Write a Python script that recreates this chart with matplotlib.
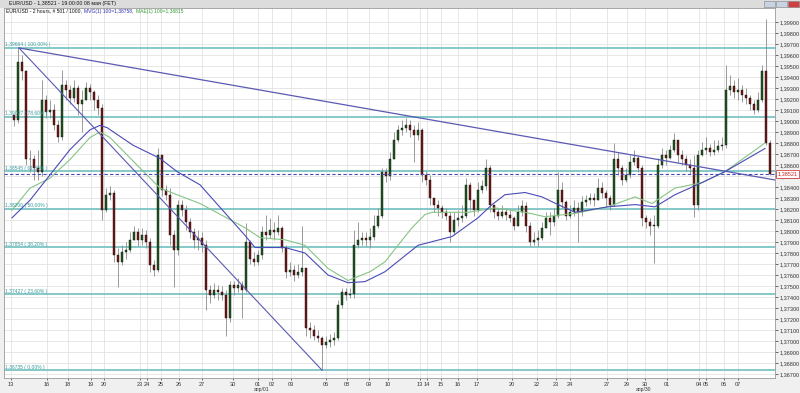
import matplotlib.pyplot as plt
import numpy as np
from matplotlib.patches import Rectangle
from matplotlib.ticker import FuncFormatter

plt.rcParams['font.family'] = ['Liberation Sans', 'DejaVu Sans']

# 2-hour EUR/USD candles (compressed)
first_open = 1.3905
close = [1.3901, 1.3954, 1.3945, 1.3865, 1.3865, 1.3857, 1.3854, 1.3919, 1.3908, 1.3910,
         1.3896, 1.3885, 1.3933, 1.3928, 1.3921, 1.3930, 1.3915, 1.3919, 1.3930, 1.3926,
         1.3919, 1.3912, 1.3819, 1.3833, 1.3835, 1.3778, 1.3772, 1.3781, 1.3783, 1.3792,
         1.3799, 1.3792, 1.3796, 1.3790, 1.3769, 1.3765, 1.3869, 1.3837, 1.3833, 1.3796,
         1.3783, 1.3824, 1.3819, 1.3808, 1.3799, 1.3792, 1.3794, 1.3787, 1.3746, 1.3742,
         1.3746, 1.3745, 1.3742, 1.3721, 1.3751, 1.3748, 1.3751, 1.3746, 1.3790, 1.3775,
         1.3772, 1.3778, 1.3799, 1.3796, 1.3801, 1.3799, 1.3803, 1.3785, 1.3763, 1.3765,
         1.3760, 1.3763, 1.3766, 1.3712, 1.3710, 1.3705, 1.3703, 1.3696, 1.3699, 1.3701,
         1.3703, 1.3733, 1.3745, 1.3742, 1.3743, 1.3787, 1.3792, 1.3794, 1.3792, 1.3795,
         1.3805, 1.3814, 1.3854, 1.3850, 1.3865, 1.3883, 1.3892, 1.3894, 1.3896, 1.3892,
         1.3887, 1.3892, 1.3851, 1.3846, 1.3830, 1.3824, 1.3821, 1.3817, 1.3814, 1.3799,
         1.3810, 1.3812, 1.3814, 1.3842, 1.3828, 1.3819, 1.3837, 1.3841, 1.3857, 1.3824,
         1.3817, 1.3814, 1.3817, 1.3815, 1.3812, 1.3805, 1.3817, 1.3823, 1.3805, 1.3790,
         1.3792, 1.3794, 1.3803, 1.3812, 1.3808, 1.3814, 1.3837, 1.3826, 1.3814, 1.3817,
         1.3821, 1.3817, 1.3826, 1.3828, 1.3830, 1.3828, 1.3839, 1.3835, 1.3830, 1.3824,
         1.3865, 1.3857, 1.3846, 1.3851, 1.3863, 1.3866, 1.3857, 1.3812, 1.3808, 1.3805,
         1.3805, 1.3860, 1.3869, 1.3866, 1.3874, 1.3883, 1.3869, 1.3865, 1.3860, 1.3857,
         1.3824, 1.3869, 1.3874, 1.3875, 1.3872, 1.3874, 1.3877, 1.3878, 1.3928, 1.3932,
         1.3926, 1.3928, 1.3924, 1.3921, 1.3915, 1.3910, 1.3919, 1.3945, 1.3880, 1.38521]
high = [1.3905, 1.39664, 1.3960, 1.3946, 1.3874, 1.3869, 1.3874, 1.3937, 1.3924, 1.3919,
        1.3915, 1.3901, 1.3946, 1.3937, 1.3933, 1.3937, 1.3933, 1.3928, 1.3935, 1.3934,
        1.3928, 1.3924, 1.3915, 1.3839, 1.3841, 1.3837, 1.3785, 1.3787, 1.3790, 1.3799,
        1.3805, 1.3803, 1.3803, 1.3801, 1.3794, 1.3774, 1.3875, 1.3869, 1.3842, 1.3839,
        1.3801, 1.3828, 1.3828, 1.3824, 1.3812, 1.3803, 1.3801, 1.3799, 1.3792, 1.3751,
        1.3753, 1.3751, 1.3750, 1.3746, 1.3755, 1.3755, 1.3757, 1.3755, 1.3807, 1.3792,
        1.3781, 1.3783, 1.3805, 1.3815, 1.3812, 1.3808, 1.3815, 1.3805, 1.3787, 1.3772,
        1.3769, 1.3770, 1.3805, 1.3766, 1.3717, 1.3715, 1.3710, 1.3705, 1.3705, 1.3706,
        1.3708, 1.3737, 1.3748, 1.3748, 1.3748, 1.3801, 1.3808, 1.3799, 1.3799, 1.3803,
        1.3815, 1.3821, 1.3857, 1.3857, 1.3872, 1.3890, 1.3896, 1.3901, 1.3903, 1.3901,
        1.3896, 1.3899, 1.3894, 1.3855, 1.3851, 1.3830, 1.3828, 1.3824, 1.3821, 1.3817,
        1.3817, 1.3819, 1.3824, 1.3848, 1.3845, 1.3828, 1.3845, 1.3846, 1.3865, 1.3860,
        1.3824, 1.3821, 1.3824, 1.3821, 1.3819, 1.3814, 1.3824, 1.3828, 1.3826, 1.3808,
        1.3799, 1.3801, 1.3808, 1.3817, 1.3817, 1.3821, 1.3854, 1.3845, 1.3828, 1.3824,
        1.3828, 1.3826, 1.3832, 1.3833, 1.3835, 1.3835, 1.3848, 1.3845, 1.3837, 1.3833,
        1.3880, 1.3872, 1.3860, 1.3857, 1.3869, 1.3874, 1.3869, 1.3860, 1.3815, 1.3812,
        1.3815, 1.3866, 1.3875, 1.3874, 1.3878, 1.3889, 1.3881, 1.3874, 1.3869, 1.3865,
        1.3869, 1.3874, 1.3881, 1.3885, 1.3879, 1.3883, 1.3883, 1.3885, 1.3951, 1.3942,
        1.3937, 1.3939, 1.3933, 1.3930, 1.3924, 1.3919, 1.3926, 1.3951, 1.3993, 1.3883]
low = [1.3895, 1.3898, 1.3937, 1.3860, 1.3854, 1.3846, 1.3846, 1.3850, 1.3903, 1.3903,
       1.3892, 1.3881, 1.3883, 1.3919, 1.3915, 1.3917, 1.3905, 1.3890, 1.3919, 1.3919,
       1.3910, 1.3905, 1.3810, 1.3817, 1.3828, 1.3772, 1.3749, 1.3769, 1.3775, 1.3781,
       1.3792, 1.3786, 1.3787, 1.3785, 1.3763, 1.3759, 1.3763, 1.3832, 1.3828, 1.3787,
       1.3749, 1.3778, 1.3814, 1.3801, 1.3794, 1.3785, 1.3783, 1.3781, 1.3728, 1.3735,
       1.3739, 1.3737, 1.3737, 1.3705, 1.3717, 1.3742, 1.3745, 1.3721, 1.3745, 1.3770,
       1.3768, 1.3769, 1.3775, 1.3792, 1.3794, 1.3792, 1.3796, 1.3781, 1.3757, 1.3759,
       1.3755, 1.3757, 1.3759, 1.3705, 1.3703, 1.3701, 1.3699, 1.36735, 1.3694, 1.3695,
       1.3696, 1.3701, 1.3730, 1.3737, 1.3739, 1.3739, 1.3785, 1.3787, 1.3786, 1.3785,
       1.3792, 1.3803, 1.3812, 1.3845, 1.3846, 1.3865, 1.3881, 1.3887, 1.3890, 1.3885,
       1.3863, 1.3883, 1.3845, 1.3842, 1.3824, 1.3817, 1.3814, 1.3812, 1.3810, 1.3790,
       1.3796, 1.3805, 1.3808, 1.3812, 1.3819, 1.3814, 1.3817, 1.3835, 1.3837, 1.3817,
       1.3812, 1.3810, 1.3812, 1.3810, 1.3808, 1.3801, 1.3805, 1.3814, 1.3799, 1.3786,
       1.3787, 1.3786, 1.3792, 1.3803, 1.3796, 1.3805, 1.3812, 1.3821, 1.3810, 1.3812,
       1.3814, 1.3790, 1.3814, 1.3823, 1.3825, 1.3823, 1.3830, 1.3830, 1.3823, 1.3819,
       1.3823, 1.3851, 1.3842, 1.3845, 1.3848, 1.3860, 1.3854, 1.3805, 1.3803, 1.3796,
       1.3771, 1.3803, 1.3857, 1.3860, 1.3865, 1.3872, 1.3863, 1.3860, 1.3855, 1.3852,
       1.3813, 1.3819, 1.3868, 1.3870, 1.3868, 1.3869, 1.3872, 1.3874, 1.3875, 1.3924,
       1.3921, 1.3919, 1.3917, 1.3915, 1.3910, 1.3906, 1.3908, 1.3917, 1.3878, 1.3851]

# moving averages (bar index, price)
mvg_x = [-0.5, 4, 9, 14, 19, 21.5, 23.25, 29.75, 36.5, 40.75, 46.5, 57.75, 60.25, 67.75,
         72.75, 78.5, 83.5, 87.75, 92.75, 101, 109.5, 116, 119.5, 122.75, 127.75, 132, 136,
         140.25, 148.5, 155.25, 160.25, 165.25, 172, 177.75, 187.75]
mvg_y = [1.3812, 1.3828, 1.3851, 1.3874, 1.3892, 1.3896, 1.3894, 1.3878, 1.3866, 1.3854,
         1.3842, 1.3796, 1.3785, 1.3785, 1.3780, 1.3760, 1.3753, 1.3754, 1.3763, 1.3787,
         1.3795, 1.3812, 1.3824, 1.3833, 1.3835, 1.3831, 1.3824, 1.3817, 1.3822, 1.3824,
         1.3822, 1.3833, 1.3844, 1.3854, 1.3875]
mae_x = [-0.5, 4, 9, 14, 19, 21.5, 24, 30.75, 36.5, 40.75, 46.5, 57.75, 61.5, 67.75, 72.75,
         78.5, 83.5, 89, 92.75, 96, 99.5, 102.75, 104.5, 113.5, 120.25, 127.75, 132.75,
         140.25, 148.5, 155.25, 159.5, 165.25, 172, 177.75, 187.75]
mae_y = [1.3819, 1.3839, 1.3848, 1.3865, 1.3885, 1.3890, 1.3885, 1.3860, 1.3839, 1.3833,
         1.3825, 1.3803, 1.3794, 1.3792, 1.3787, 1.3766, 1.3755, 1.3763, 1.3772, 1.3787,
         1.3803, 1.3815, 1.3817, 1.3817, 1.3821, 1.3817, 1.3813, 1.3816, 1.3822, 1.3831,
         1.3825, 1.3839, 1.3844, 1.3854, 1.3880]

# trend lines (bar index, price)
fan_x = [1.25, 77]
fan_y = [1.39664, 1.36735]
trend_x = [1.25, 190.25]
trend_y = [1.39664, 1.38464]

fib_prices = [1.39664, 1.39037, 1.38545, 1.38200, 1.37854, 1.37427, 1.36735]
fib_pct = ["100,00%", "78,60%", "61,80%", "50,00%", "38,20%", "23,60%", "0,00%"]

last_price = 1.38521
price_ticks = [round(1.367 + 0.001 * k, 3) for k in range(33)]

day_labels = ["13", "16", "18", "19", "20", "23", "24", "25", "26", "27", "30", "01", "02",
              "03", "06", "08", "09", "10", "13", "14", "15", "16", "17", "20", "22", "23",
              "24", "27", "29", "30", "01", "04", "05", "06", "07"]
day_pos = [-0.75, 8.25, 13.5, 19.25, 22.5, 31.5, 33.25, 36.75, 41.25, 47, 54.75, 61, 64.5,
           69.25, 78, 83.25, 88.75, 93.5, 101.5, 103.25, 106.75, 111, 115.75, 124.5, 130.75,
           135.5, 139, 148.25, 153.25, 157.75, 163.25, 171.25, 173, 177.5, 181]
month_labels = ["апр/01", "апр/30"]
month_pos = [62, 157.25]

W, H = 800, 393
ylo, yhi = 1.36664, 1.40027
fig = plt.figure(figsize=(W / 100, H / 100), dpi=100, facecolor="#f0f0f0")
ax = fig.add_axes([4 / W, 1 - 378 / H, 771 / W, 370 / H], facecolor="white")

n = len(close)
x = np.arange(n)
opens = np.array([first_open] + close[:-1])
closes = np.array(close)
highs = np.maximum(np.array(high), np.maximum(opens, closes))
lows = np.minimum(np.array(low), np.minimum(opens, closes))

# grid
for p in price_ticks:
    ax.axhline(p, color="#e3e3e3", lw=0.6, zorder=0)
for d in day_pos:
    ax.axvline(d, color="#e3e3e3", lw=0.6, zorder=0)

# fibonacci levels
for p, pct in zip(fib_prices, fib_pct):
    ax.axhline(p, color="#7cc4c4", lw=1.3, zorder=1)
    ax.text(-2.2, p + 0.00005, f"{p:.5f}".replace(".", ",") + f" ( {pct} )",
            fontsize=3.6, color="#3a9c9c", va="bottom", ha="left", zorder=5)

# candles
ax.vlines(x, lows, highs, color="#8a8a8a", lw=0.6, zorder=2)
up = closes >= opens
body_h = np.maximum(np.abs(closes - opens), 0.00004)
ax.bar(x[up], body_h[up], bottom=opens[up], width=0.65, color="#1d5a1d",
       edgecolor="#111111", linewidth=0.3, zorder=3)
ax.bar(x[~up], body_h[~up], bottom=closes[~up], width=0.65, color="#7a1414",
       edgecolor="#111111", linewidth=0.3, zorder=3)

# moving averages and trend lines
ax.plot(mae_x, mae_y, color="#86c486", lw=0.8, zorder=4)
ax.plot(mvg_x, mvg_y, color="#4a4ab8", lw=0.8, zorder=4)
ax.plot(fan_x, fan_y, color="#5a5ab4", lw=0.8, zorder=4)
ax.plot(trend_x, trend_y, color="#5a5ab4", lw=0.9, zorder=4)
ax.axhline(last_price, color="#4a4ab8", lw=0.8, ls=(0, (3, 2)), zorder=4)

ax.set_xlim(-2.5, 190.25)
ax.set_ylim(ylo, yhi)

ax.yaxis.tick_right()
ax.set_yticks(price_ticks)
ax.yaxis.set_major_formatter(FuncFormatter(lambda v, pos: f"{v:.5f}".replace(".", ",")))
ax.tick_params(axis="y", labelsize=4, length=2, width=0.5, pad=1, colors="#333333")
ax.set_xticks(day_pos)
ax.set_xticklabels(day_labels)
ax.tick_params(axis="x", labelsize=4, length=1.5, width=0.5, pad=1.2, colors="#333333")
for s in ax.spines.values():
    s.set_color("#9a9a9a")
    s.set_linewidth(0.6)

for lab, pos in zip(month_labels, month_pos):
    ax.text(pos, -0.031, lab, transform=ax.get_xaxis_transform(), fontsize=3.6,
            ha="center", va="center", color="#333333")

# current price box on the right axis (covers the tick label beneath it)
ax.text(1.003, (last_price - ylo) / (yhi - ylo), "1,38521",
        transform=ax.transAxes, fontsize=4, color="#cc2222", va="center", ha="left",
        zorder=10, clip_on=False,
        bbox=dict(boxstyle="square,pad=0.25", fc="white", ec="#cc2222", lw=0.5))

# header inside the chart, pieces placed one after the other
fig.canvas.draw()
rend = fig.canvas.get_renderer()
hy = 1 - 11 / H
hx = 6
for txt, col in [("EUR/USD - 2 hours, # 501 / 1000, ", "#111111"),
                 ("MVG(1) 100=1,38758, ", "#3030b0"),
                 ("MAE(1) 100=1,38815", "#3a9a3a")]:
    t = fig.text(hx / W, hy, txt, fontsize=3.6, color=col, va="center")
    hx = t.get_window_extent(rend).x1 + 1

# window title bar
fig.patches.append(Rectangle((0, 1 - 8 / H), 1, 8 / H, transform=fig.transFigure,
                             fc="#dcdcdc", ec="none", zorder=0))
fig.text(9 / W, 1 - 4 / H, "EUR/USD - 1,38521 - 19:00:00 08 мая (FET)", fontsize=3.8,
         color="#111111", va="center")
for bx, col in [(764, "#c8d4e4"), (776, "#c8d4e4"), (788, "#d04040")]:
    fig.patches.append(Rectangle((bx / W, 1 - 7 / H), 11 / W, 6 / H, transform=fig.transFigure,
                                 fc=col, ec="#808080", lw=0.4, zorder=1))

fig.savefig("out.png", dpi=100, facecolor=fig.get_facecolor())
